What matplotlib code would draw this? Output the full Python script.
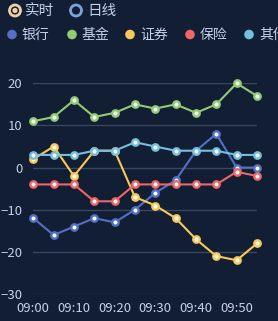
import matplotlib
matplotlib.use('Agg')
import matplotlib.pyplot as plt
from matplotlib.patches import Circle

plt.rcParams['font.family'] = ['Noto Sans CJK SC', 'DejaVu Sans']

times = ['09:00', '09:05', '09:10', '09:15', '09:20', '09:25',
         '09:30', '09:35', '09:40', '09:45', '09:50', '09:55']
names = ['银行', '基金', '证券', '保险', '其他']
colors = ['#5470c6', '#91cc75', '#fac858', '#ee6666', '#73c0de']
bank = [-12, -16, -14, -12, -13, -10, -6, -3, 4, 8, 0, 0]
fund = [11, 12, 16, 12, 13, 15, 14, 15, 13, 15, 20, 17]
secu = [2, 5, -2, 4, 4, -7, -9, -12, -17, -21, -22, -18]
insur = [-4, -4, -4, -8, -8, -4, -4, -4, -4, -4, -1, -2]
other = [3, 3, 3, 4, 4, 6, 5, 4, 4, 4, 3, 3]
series = [bank, fund, secu, insur, other]
yticks = [-30, -20, -10, 0, 10, 20]

bg = '#121e33'
txt = '#c3d0e8'
grid = '#3a4660'

W, H = 278, 321
fig = plt.figure(figsize=(W / 100, H / 100), dpi=100, facecolor=bg)

ax = fig.add_axes([33.3 / W, 1 - 294 / H, (257 - 33.3) / W, (294 - 83.3) / H])
ax.set_facecolor(bg)
x = list(range(len(times)))
for vals, c in zip(series, colors):
    ax.plot(x, vals, color=c, lw=1.5, marker='o', ms=4.6, mfc='#ffffff',
            mec=c, mew=1.7, clip_on=False, zorder=3)

ax.set_xlim(0, len(times) - 1)
ax.set_ylim(-30, 20)
ax.set_yticks(yticks)
ax.set_xticks(x[::2])
ax.set_xticklabels(times[::2])
ax.grid(axis='y', color=grid, lw=1)
ax.set_axisbelow(True)
for s in ['top', 'right', 'left', 'bottom']:
    ax.spines[s].set_visible(False)
ax.tick_params(length=0, colors=txt, labelsize=9.5)
ax.tick_params(axis='y', pad=8)
ax.tick_params(axis='x', pad=6)

# header: radio buttons and legend, in pixel coords
hd = fig.add_axes([0, 0, 1, 1])
hd.set_xlim(0, W)
hd.set_ylim(H, 0)
hd.axis('off')
hd.patch.set_alpha(0)

hd.add_patch(Circle((15, 10.5), 5.5, fc='none', ec='#f3cfa3', lw=2))
hd.add_patch(Circle((15, 10.5), 2.6, fc='#f3cfa3', ec='none'))
hd.text(25, 10.5, '实时', color=txt, fontsize=10.5, va='center')
hd.add_patch(Circle((76, 10.5), 5.5, fc='none', ec='#7fa2dc', lw=2))
hd.text(87, 10.5, '日线', color=txt, fontsize=10.5, va='center')

leg_x = [12, 72, 130, 190, 249]
for lx, n, c in zip(leg_x, names, colors):
    hd.add_patch(Circle((lx, 34.5), 4.8, fc=c, ec='none'))
    hd.text(lx + 10, 34.5, n, color=txt, fontsize=10, va='center')

fig.savefig('out.png', dpi=100, facecolor=bg)
